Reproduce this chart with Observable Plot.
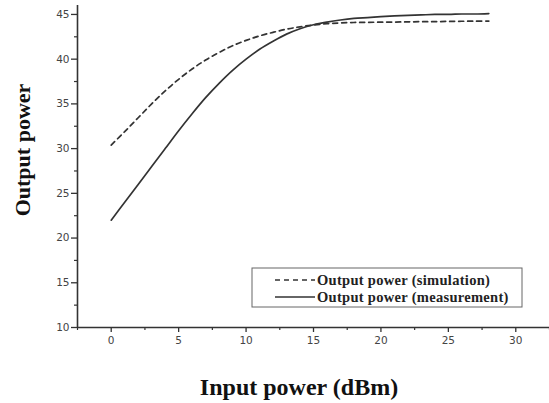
<!DOCTYPE html>
<html>
<head>
<meta charset="utf-8">
<script src="https://cdn.jsdelivr.net/npm/d3@7"></script>
<script src="https://cdn.jsdelivr.net/npm/@observablehq/plot@0.6"></script>
<style>
  html, body { margin: 0; padding: 0; background: #fff; }
  #chart { position: relative; width: 549px; height: 403px; }
</style>
</head>
<body>
<div id="chart"></div>
<script>
// Input power (dBm)
const inputPower = [0,1,2,3,4,5,6,7,8,9,10,11,12,13,14,15,16,17,18,19,20,21,22,23,24,25,26,27,28];
// Output power (simulation)
const simulation = [30.4,31.9,33.45,35.0,36.45,37.75,38.9,39.9,40.75,41.5,42.1,42.6,43.0,43.35,43.62,43.82,43.97,44.05,44.1,44.12,44.14,44.15,44.17,44.19,44.2,44.22,44.24,44.25,44.26];
// Output power (measurement)
const measurement = [22.0,24.0,26.0,28.0,30.0,32.0,33.9,35.7,37.3,38.75,40.0,41.1,42.0,42.8,43.4,43.85,44.15,44.38,44.55,44.65,44.75,44.83,44.9,44.95,45.0,45.0,45.05,45.05,45.1];

const xMajor = [0,5,10,15,20,25,30];
const xMinor = [-2.5,2.5,7.5,12.5,17.5,22.5,27.5,32.5];
const yMajor = [10,15,20,25,30,35,40,45];
const yMinor = [12.5,17.5,22.5,27.5,32.5,37.5,42.5];

const seriesNames = ["Output power (simulation)", "Output power (measurement)"];
const xTitle = "Input power (dBm)";
const yTitle = "Output power";

const simData = inputPower.map((x, i) => ({x, y: simulation[i]}));
const measData = inputPower.map((x, i) => ({x, y: measurement[i]}));

const tickFont = {fontFamily: "DejaVu Sans", fontSize: 10.5, fill: "#444"};

const plot = Plot.plot({
  width: 549,
  height: 403,
  marginLeft: 77,
  marginRight: 0,
  marginTop: 5,
  marginBottom: 76,
  style: {background: "#fff", color: "#333", fontFamily: "DejaVu Sans"},
  x: {domain: [-2.5, 32.5]},
  y: {domain: [10, 46]},
  marks: [
    Plot.axisX(xMajor, {tickSize: 5, tickPadding: 4, stroke: "#333", strokeWidth: 1.3, label: null, ...tickFont, tickFormat: d => d}),
    Plot.axisX(xMinor, {tickSize: 3, text: null, stroke: "#333", strokeWidth: 1.2, label: null}),
    Plot.axisY(yMajor, {tickSize: 6, tickPadding: 2, stroke: "#333", strokeWidth: 1.3, label: null, ...tickFont, tickFormat: d => d}),
    Plot.axisY(yMinor, {tickSize: 3, text: null, stroke: "#333", strokeWidth: 1.2, label: null}),
    Plot.ruleX([-2.5], {stroke: "#333", strokeWidth: 1.6}),
    Plot.ruleY([10], {stroke: "#333", strokeWidth: 1.6}),
    Plot.line(simData, {x: "x", y: "y", curve: "catmull-rom", stroke: "#333", strokeWidth: 1.7, strokeDasharray: "5,4"}),
    Plot.line(measData, {x: "x", y: "y", curve: "catmull-rom", stroke: "#333", strokeWidth: 1.7})
  ]
});

const svg = d3.select(plot);
// Axis titles
svg.append("text")
  .attr("x", 299).attr("y", 395)
  .attr("text-anchor", "middle")
  .attr("font-family", "Liberation Serif, Times New Roman, serif")
  .attr("font-weight", "bold").attr("font-size", 24).attr("fill", "#111")
  .text(xTitle);
svg.append("text")
  .attr("transform", "translate(30,150) rotate(-90)")
  .attr("text-anchor", "middle")
  .attr("font-family", "Liberation Serif, Times New Roman, serif")
  .attr("font-weight", "bold").attr("font-size", 22).attr("fill", "#111")
  .text(yTitle);

// Legend
const lg = svg.append("g");
lg.append("rect").attr("x", 252).attr("y", 268).attr("width", 270).attr("height", 39)
  .attr("fill", "#fff").attr("stroke", "#666").attr("stroke-width", 1);
const styles = ["5,4", null];
seriesNames.forEach((name, i) => {
  const yy = 280 + i * 17;
  const ln = lg.append("line").attr("x1", 275).attr("x2", 315).attr("y1", yy).attr("y2", yy)
    .attr("stroke", "#333").attr("stroke-width", 1.6);
  if (styles[i]) ln.attr("stroke-dasharray", styles[i]);
  lg.append("text").attr("x", 317).attr("y", yy).attr("dy", "0.35em")
    .attr("text-anchor", "start")
    .attr("font-family", "Liberation Serif, Times New Roman, serif")
    .attr("font-weight", "bold").attr("font-size", 14.5).attr("letter-spacing", 0.3).attr("fill", "#222")
    .text(name);
});

document.getElementById("chart").appendChild(plot);
</script>
</body>
</html>
